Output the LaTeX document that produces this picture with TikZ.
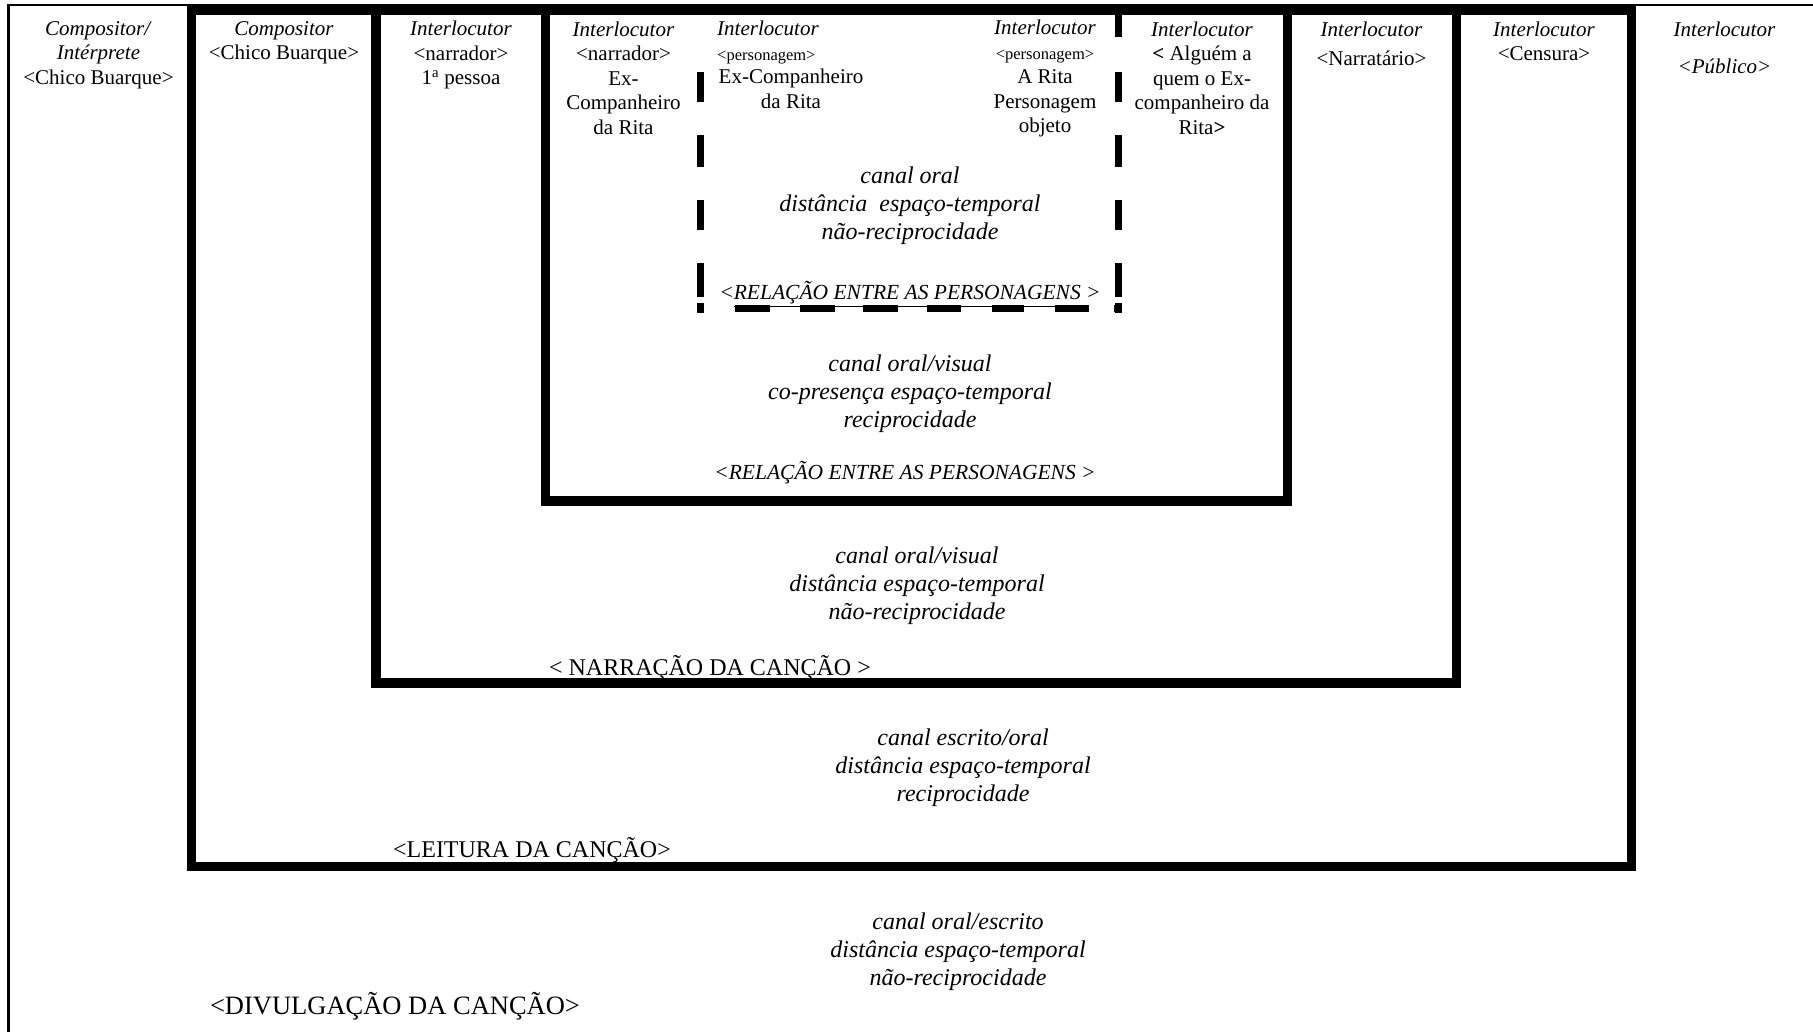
\documentclass[tikz,border=0pt]{standalone}
\usepackage{fontspec}
\setmainfont{Liberation Serif}
\newcommand\smallhdr{\fontsize{16.5}{24.5}\selectfont}
\begin{document}
\begin{tikzpicture}[x=1pt,y=-1pt,
  outerline/.style={line width=2.5pt},
  boxline/.style={draw, line width=9.5pt},
  dashseg/.style={line width=7pt},
  hdr/.style={inner sep=0pt, align=center, font=\fontsize{21}{24.5}\selectfont},
  canaltext/.style={inner sep=0pt, align=center, font=\itshape\fontsize{24}{28}\selectfont},
  titletag/.style={inner sep=0pt, anchor=base, font=\fontsize{24}{28}\selectfont},
  relationtag/.style={inner sep=0pt, anchor=base, font=\itshape\fontsize{21.5}{26}\selectfont},
]
\useasboundingbox (0,0) rectangle (1813,1032);

% thin outer border (top and left only)
\coordinate (o-tl) at (8.5,5);
\coordinate (o-tr) at (1813,5);
\coordinate (o-bl) at (8.5,1032);
\draw[outerline] (o-tr) -- (o-tl) -- (o-bl);

% nested frames
\coordinate (leit-nw) at (191.5,10);  \coordinate (leit-se) at (1631.5,866.5);
\coordinate (narr-nw) at (376,10);    \coordinate (narr-se) at (1456.5,683);
\coordinate (dial-nw) at (545.5,10);  \coordinate (dial-se) at (1287.5,501);
\draw[boxline] (leit-nw) rectangle (leit-se);
\draw[boxline] (narr-nw) rectangle (narr-se);
\draw[boxline] (dial-nw) rectangle (dial-se);

% dashed frame of the characters' relation
\foreach \a/\b in {72/102,135/167,200/230,263/297,303/313}
  \draw[dashseg] (700.5,\a) -- (700.5,\b);
\foreach \a/\b in {13/37,72/102,135/167,200/230,263/297,303/313}
  \draw[dashseg] (1118,\a) -- (1118,\b);
\foreach \a/\b in {697/704,735/770,800/835,863/898,927/961,992/1024,1055/1089,1114/1121.5}
  \draw[dashseg] (\a,309) -- (\b,309);

% column headings
\node[hdr] (c0) at (98.5,55) {\textit{Compositor/}\\\textit{Intérprete}\\<Chico Buarque>};
\node[hdr] (c1) at (284,43) {\textit{Compositor}\\<Chico Buarque>};
\node[hdr] (c2) at (461,55) {\textit{Interlocutor}\\<narrador>\\1\textsuperscript{a} pessoa};
\node[hdr] (c3) at (623.5,78) {\textit{Interlocutor}\\<narrador>\\Ex-\\Companheiro\\da Rita};
\node[hdr, align=left, anchor=west] (c4a) at (717,42.5) {\textit{Interlocutor}\\{\smallhdr <personagem>}};
\node[hdr] (c4b) at (791,89) {Ex-Companheiro\\da Rita};
\node[hdr] (c5) at (1045,78.5) {\textit{Interlocutor}\\{\smallhdr <personagem>}\\A Rita\\Personagem\\objeto};
\node[hdr] (c6) at (1202,78) {\textit{Interlocutor}\\\textbf{<} Alguém a\\quem o Ex-\\companheiro da\\Rita\textbf{>}};
\node[hdr] (c7) at (1371.5,43.5) {\textit{Interlocutor}\\[4.5pt]<Narratário>};
\node[hdr] (c8) at (1544,41.5) {\textit{Interlocutor}\\<Censura>};
\node[hdr] (c9) at (1724.5,47.5) {\textit{Interlocutor}\\[12.5pt]\textit{<Público>}};

% channel descriptions and level titles
\node[canaltext] (t-pers) at (910,205.5) {canal oral\\distância\ \ espaço-temporal\\não-reciprocidade};
\node[relationtag] (r-pers) at (910,300) {<\underline{RELAÇÃO ENTRE AS PERSONAGENS} >};

\node[canaltext] (t-dial) at (910,394) {canal oral/visual\\co-presença espaço-temporal\\reciprocidade};
\node[relationtag] (r-dial) at (905,479) {<RELAÇÃO ENTRE AS PERSONAGENS >};

\node[canaltext] (t-narr) at (917,586) {canal oral/visual\\distância espaço-temporal\\não-reciprocidade};
\node[titletag] (r-narr) at (710,675) {< NARRAÇÃO DA CANÇÃO >};

\node[canaltext] (t-leit) at (963,768) {canal escrito/oral\\distância espaço-temporal\\reciprocidade};
\node[titletag] (r-leit) at (532,857) {<LEITURA DA CANÇÃO>};

\node[canaltext] (t-div) at (958,952) {canal oral/escrito\\distância espaço-temporal\\não-reciprocidade};
\node[titletag, font=\fontsize{26.5}{30}\selectfont] (r-div) at (395,1014) {<DIVULGAÇÃO DA CANÇÃO>};
\end{tikzpicture}
\end{document}
